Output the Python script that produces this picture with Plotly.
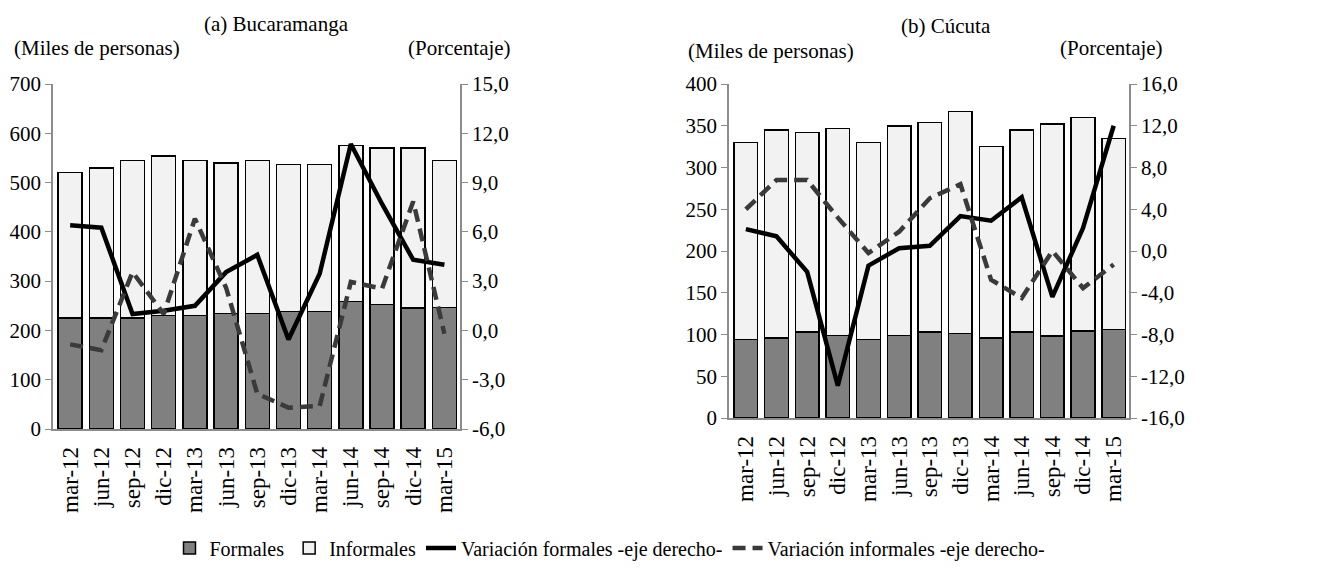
import plotly.graph_objects as go

periodos = ['mar-12', 'jun-12', 'sep-12', 'dic-12', 'mar-13', 'jun-13', 'sep-13',
            'dic-13', 'mar-14', 'jun-14', 'sep-14', 'dic-14', 'mar-15']

# (a) Bucaramanga - miles de personas / porcentaje
buc_formales = [225, 225, 225, 230, 230, 234, 234, 238, 238, 259, 253, 246, 247]
buc_informales = [295, 305, 320, 324, 315, 306, 311, 299, 299, 316, 317, 324, 298]
buc_var_formales = [6.4, 6.25, 1.0, 1.2, 1.5, 3.55, 4.6, -0.55, 3.45, 11.35, 7.7, 4.3, 4.0]
buc_var_informales = [-0.85, -1.2, 3.55, 1.0, 6.8, 2.6, -3.85, -4.7, -4.6, 2.95, 2.55, 7.85, -0.2]

# (b) Cúcuta
cuc_formales = [94, 96, 103, 99, 94, 99, 103, 101, 96, 103, 98, 104, 106]
cuc_informales = [236, 249, 239, 248, 236, 251, 251, 266, 229, 242, 254, 256, 229]
cuc_var_formales = [2.1, 1.4, -2.0, -12.9, -1.4, 0.27, 0.5, 3.35, 2.9, 5.15, -4.4, 2.2, 12.0]
cuc_var_informales = [4.0, 6.8, 6.8, 3.2, -0.2, 1.85, 5.05, 6.4, -2.75, -4.5, 0.0, -3.55, -1.3]

buc_pct_ticks = [-6, -3, 0, 3, 6, 9, 12, 15]
cuc_pct_ticks = [-16, -12, -8, -4, 0, 4, 8, 12, 16]

FONT = 'Liberation Serif'
FS = 20
GRAY_AXIS = '#8c8c8c'
W, H = 1330, 575


def pct_labels(vals):
    return [f'{v:.1f}'.replace('.', ',') for v in vals]


def px(x):
    return x / W


def py(y):
    return 1 - y / H


fig = go.Figure()

panels = [
    ('x', 'y', 'y2', buc_formales, buc_informales, buc_var_formales, buc_var_informales, True),
    ('x2', 'y3', 'y4', cuc_formales, cuc_informales, cuc_var_formales, cuc_var_informales, False),
]
for xa, ya, ya2, formales, informales, vf, vi, show in panels:
    fig.add_trace(go.Bar(x=periodos, y=formales, xaxis=xa, yaxis=ya, name='Formales',
                         marker=dict(color='#808080', line=dict(color='black', width=1.5)),
                         showlegend=show))
    fig.add_trace(go.Bar(x=periodos, y=informales, xaxis=xa, yaxis=ya, name='Informales',
                         marker=dict(color='#f2f2f2', line=dict(color='black', width=1.5)),
                         showlegend=show))
    fig.add_trace(go.Scatter(x=periodos, y=vf, xaxis=xa, yaxis=ya2, mode='lines',
                             name='Variación formales -eje derecho-',
                             line=dict(color='black', width=4.5), showlegend=show))
    fig.add_trace(go.Scatter(x=periodos, y=vi, xaxis=xa, yaxis=ya2, mode='lines',
                             name='Variación informales -eje derecho-',
                             line=dict(color='#3a3a3a', width=4.5, dash='13px,7px'),
                             showlegend=show))

# invisible x ticks just to push the rotated labels down a bit
xcommon = dict(showline=True, linecolor=GRAY_AXIS, linewidth=1.5, ticks='outside', ticklen=7,
               tickcolor='rgba(0,0,0,0)', tickangle=-90,
               showgrid=False, range=[-0.55, 12.5], automargin=False,
               tickfont=dict(size=23, color='black', family=FONT))
ycommon = dict(showline=True, linecolor=GRAY_AXIS, linewidth=1.5, ticks='outside',
               ticklen=6, tickcolor=GRAY_AXIS, showgrid=False, zeroline=False,
               automargin=False, tickfont=dict(size=21, color='black', family=FONT))

fig.update_layout(
    width=W, height=H,
    margin=dict(l=0, r=0, t=0, b=0),
    paper_bgcolor='white', plot_bgcolor='white',
    font=dict(family=FONT, size=FS, color='black'),
    barmode='stack', bargap=0.23,
    xaxis=dict(domain=[px(45), px(452)], anchor='y', **xcommon),
    yaxis=dict(domain=[py(421), py(76)], anchor='x', range=[0, 700], dtick=100, **ycommon),
    yaxis2=dict(overlaying='y', side='right', anchor='x', range=[-6, 15],
                tickvals=buc_pct_ticks, ticktext=pct_labels(buc_pct_ticks), **ycommon),
    xaxis2=dict(domain=[px(721), px(1121)], anchor='y3', **xcommon),
    yaxis3=dict(domain=[py(410), py(76)], anchor='x2', range=[0, 400], dtick=50, **ycommon),
    yaxis4=dict(overlaying='y3', side='right', anchor='x2', range=[-16, 16],
                tickvals=cuc_pct_ticks, ticktext=pct_labels(cuc_pct_ticks), **ycommon),
    legend=dict(orientation='h', x=px(602), xanchor='center', y=py(540), yanchor='middle',
                font=dict(size=20, family=FONT), itemwidth=30, traceorder='normal',
                bgcolor='rgba(0,0,0,0)'),
    showlegend=True,
)

annots = [
    (268, 16, '(a) Bucaramanga', 'center'),
    (4, 40, '(Miles de personas)', 'left'),
    (505, 40, '(Porcentaje)', 'right'),
    (938, 18, '(b) Cúcuta', 'center'),
    (678, 43, '(Miles de personas)', 'left'),
    (1157, 40, '(Porcentaje)', 'right'),
]
for ax, ay, txt, anchor in annots:
    fig.add_annotation(x=px(ax), y=py(ay), xref='paper', yref='paper', text=txt,
                       showarrow=False, xanchor=anchor, yanchor='middle',
                       font=dict(size=21, family=FONT, color='black'))

fig.write_html('out.html')
